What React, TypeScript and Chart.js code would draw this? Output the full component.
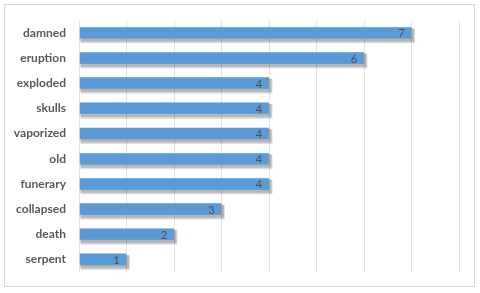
import React, { useEffect, useRef } from "react";
import { Chart, registerables } from "chart.js";

Chart.register(...registerables);

const categories = ["damned", "eruption", "exploded", "skulls", "vaporized", "old", "funerary", "collapsed", "death", "serpent"];
const counts = [7, 6, 4, 4, 4, 4, 4, 3, 2, 1];
const axisMax = 8;

const framePlugin = {
  id: "frame",
  beforeDraw(chart: any) {
    const c = chart.ctx;
    c.save();
    c.fillStyle = "#ffffff";
    c.fillRect(0, 0, chart.width, chart.height);
    c.strokeStyle = "#d9d9d9";
    c.lineWidth = 1;
    c.strokeRect(4.5, 4.5, 470, 282);
    c.restore();
  },
};

const shadowPlugin = {
  id: "barShadow",
  beforeDatasetsDraw(chart: any) {
    const c = chart.ctx;
    const meta = chart.getDatasetMeta(0);
    c.save();
    meta.data.forEach((bar: any) => {
      const { x, y, base, height } = bar.getProps(["x", "y", "base", "height"], true);
      c.fillStyle = "rgba(0,0,0,0.18)";
      c.fillRect(base + 1, y - height / 2 + 1.5, x - base + 1.5, height + 1.5);
      c.fillStyle = "rgba(0,0,0,0.12)";
      c.fillRect(base + 1, y - height / 2 + 2, x - base + 2.5, height + 2.5);
    });
    c.restore();
  },
};

const valueLabelPlugin = {
  id: "valueLabels",
  afterDatasetsDraw(chart: any) {
    const c = chart.ctx;
    const meta = chart.getDatasetMeta(0);
    c.save();
    c.fillStyle = "#4d4d4d";
    c.font = "11px Lato";
    c.textAlign = "center";
    c.textBaseline = "middle";
    meta.data.forEach((bar: any, i: number) => {
      c.fillText(String(chart.data.datasets[0].data[i]), bar.x - 10, bar.y + 1);
    });
    c.restore();
  },
};

export default function App() {
  const ref = useRef<HTMLCanvasElement>(null);
  useEffect(() => {
    document.body.style.margin = "0";
    const chart = new Chart(ref.current!, {
      type: "bar",
      data: {
        labels: categories,
        datasets: [
          {
            data: counts,
            backgroundColor: "#5b9bd5",
            borderColor: "#4a89c8",
            borderWidth: 0.5,
            barPercentage: 0.48,
            categoryPercentage: 1,
          },
        ],
      },
      options: {
        indexAxis: "y",
        animation: false,
        responsive: false,
        layout: { padding: { left: 4, right: 21, top: 17, bottom: 21 } },
        plugins: { legend: { display: false }, tooltip: { enabled: false } },
        scales: {
          x: {
            min: 0,
            max: axisMax,
            ticks: { display: false, stepSize: 1 },
            grid: { color: "#e3e3e3", drawTicks: false },
            border: { display: false },
            afterFit(scale: any) {
              scale.height = 0;
            },
          },
          y: {
            ticks: {
              color: "#595959",
              font: { family: "Lato", size: 12, weight: "bold" },
              padding: 13,
            },
            grid: { display: false, drawTicks: false },
            border: { display: false },
            afterFit(scale: any) {
              scale.width = 75;
            },
          },
        },
      },
      plugins: [framePlugin, shadowPlugin, valueLabelPlugin],
    });
    return () => chart.destroy();
  }, []);
  return <canvas ref={ref} width={480} height={293} style={{ display: "block" }} />;
}
